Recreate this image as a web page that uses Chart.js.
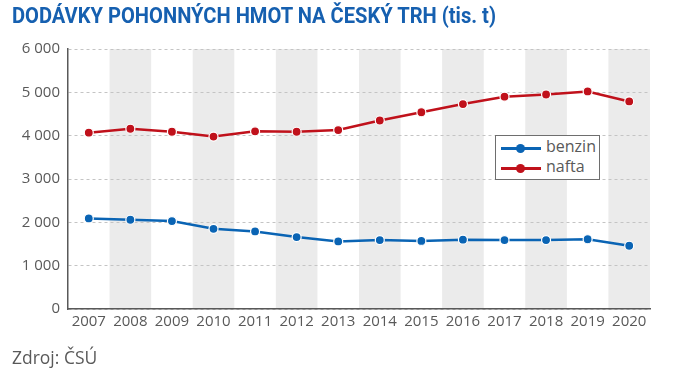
<!DOCTYPE html>
<html>
<head>
<meta charset="utf-8">
<script src="https://cdn.jsdelivr.net/npm/chart.js@4/dist/chart.umd.min.js"></script>
<style>
  html, body { margin: 0; padding: 0; background: #fff; }
  #wrap { position: relative; width: 674px; height: 377px; overflow: hidden; }
  canvas { position: absolute; left: 0; top: 0; }
  #title { position: absolute; left: 12px; top: 3px; font-family: 'Roboto', sans-serif; font-weight: bold; font-size: 22px; color: #1660b0; white-space: nowrap; transform: scaleX(0.915); transform-origin: left top; }
  #source { position: absolute; left: 12px; top: 344px; font-family: 'Open Sans', sans-serif; font-size: 19px; color: #595959; transform: scaleX(0.92); transform-origin: left top; }
  #legend { position: absolute; left: 495px; top: 135px; width: 103px; height: 43px; border: 1.5px solid #6e6e6e; background: #fff; font-family: 'Open Sans', sans-serif; font-size: 16px; color: #595959; }
  .item { position: absolute; left: 5px; height: 20px; line-height: 20px; white-space: nowrap; }
  .sym { position: absolute; left: 0; top: 9px; width: 40px; height: 3px; }
  .sym::after { content: ''; position: absolute; left: 15px; top: -3px; width: 9px; height: 9px; border-radius: 50%; background: inherit; }
  .lbl { position: absolute; left: 45px; top: -2px; }
</style>
</head>
<body>
<div id="wrap">
  <canvas id="c" width="674" height="377"></canvas>
  <div id="title">DODÁVKY POHONNÝCH HMOT NA ČESKÝ TRH (tis. t)</div>
  <div id="legend">
    <div class="item" style="top:2px"><span class="sym" style="background:#0a64b4"></span><span class="lbl">benzin</span></div>
    <div class="item" style="top:22px"><span class="sym" style="background:#c0111b"></span><span class="lbl">nafta</span></div>
  </div>
  <div id="source">Zdroj: ČSÚ</div>
</div>
<script>
const years = ['2007','2008','2009','2010','2011','2012','2013','2014','2015','2016','2017','2018','2019','2020'];
const benzin = [2090, 2060, 2030, 1850, 1790, 1660, 1560, 1590, 1570, 1600, 1590, 1590, 1610, 1460];
const nafta = [4070, 4160, 4090, 3980, 4100, 4090, 4130, 4350, 4540, 4730, 4900, 4950, 5020, 4790];
const yTicks = [0, 1000, 2000, 3000, 4000, 5000, 6000];

const BLUE = '#0a64b4';
const RED = '#c0111b';
const GRAY_TXT = '#595959';

const bandPlugin = {
  id: 'bands',
  beforeDraw(chart) {
    const { ctx, chartArea, scales } = chart;
    const x = scales.x;
    const step = x.getPixelForValue(1) - x.getPixelForValue(0);
    ctx.save();
    ctx.fillStyle = '#ebebeb';
    years.forEach((y, i) => {
      if (i % 2 === 1) {
        const cx = x.getPixelForValue(i);
        ctx.fillRect(cx - step / 2, chartArea.top, step, chartArea.bottom - chartArea.top);
      }
    });
    ctx.restore();
  }
};

new Chart(document.getElementById('c'), {
  type: 'line',
  data: {
    labels: years,
    datasets: [
      { label: 'benzin', data: benzin, borderColor: BLUE, backgroundColor: BLUE, borderWidth: 2.5,
        pointRadius: 4.5, pointBorderColor: '#fff', pointBorderWidth: 1.2, pointBackgroundColor: BLUE, tension: 0 },
      { label: 'nafta', data: nafta, borderColor: RED, backgroundColor: RED, borderWidth: 2.5,
        pointRadius: 4.5, pointBorderColor: '#fff', pointBorderWidth: 1.2, pointBackgroundColor: RED, tension: 0 }
    ]
  },
  options: {
    responsive: false,
    animation: false,
    devicePixelRatio: 1,
    layout: { padding: { top: 49, right: 24, bottom: 38, left: 0 } },
    plugins: { legend: { display: false }, tooltip: { enabled: false } },
    scales: {
      x: {
        offset: true,
        grid: { display: false, drawTicks: false },
        border: { display: true, color: '#595959', width: 1.5 },
        ticks: { color: GRAY_TXT, font: { family: 'Open Sans', size: 15 }, padding: 4, maxRotation: 0, autoSkip: false },
        afterFit(s) { s.height = 30; }
      },
      y: {
        min: 0, max: 6000,
        afterBuildTicks(s) { s.ticks = yTicks.map(v => ({ value: v })); },
        grid: { color: '#c4c4c4', lineWidth: 1, drawTicks: false },
        border: { display: true, color: '#595959', width: 1.5, dash: [3, 3] },
        ticks: { color: GRAY_TXT, font: { family: 'Open Sans', size: 15 }, padding: 8,
          callback: v => String(v).replace(/\B(?=(\d{3})+(?!\d))/g, ' ') },
        afterFit(s) { s.width = 68; }
      }
    }
  },
  plugins: [bandPlugin]
});
</script>
</body>
</html>
